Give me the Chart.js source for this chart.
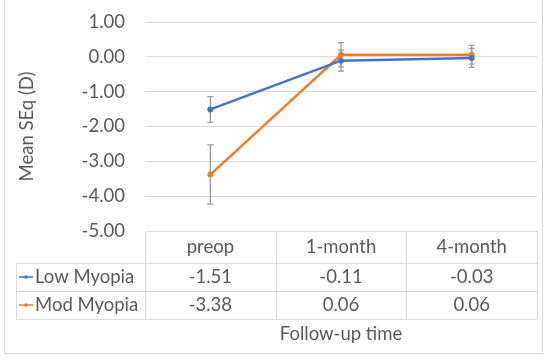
<!DOCTYPE html>
<html>
<head>
<meta charset="utf-8">
<script src="https://cdn.jsdelivr.net/npm/chart.js@4.4.1/dist/chart.umd.min.js"></script>
<style>
  html, body { margin: 0; padding: 0; background: #fff; }
  #wrap { width: 550px; height: 360px; position: relative; }
</style>
</head>
<body>
<div id="wrap"><canvas id="chart" width="550" height="360"></canvas></div>
<script>
// data
const categories = ["preop", "1-month", "4-month"];
const lowMyopia = [-1.51, -0.11, -0.03];
const modMyopia = [-3.38, 0.06, 0.06];
const lowSd = [0.37, 0.30, 0.27];
const modSd = [0.85, 0.35, 0.27];
const seriesNames = ["Low Myopia", "Mod Myopia"];
const seriesColors = ["#4472C4", "#ED7D31"];

const FONT = "Lato, 'Open Sans', sans-serif";
const FS = 18.5;
const TEXT = "#595959";
const LINE = "#d9d9d9";

// error bars, drawn under the lines
const errorBars = {
  id: "errorBars",
  beforeDatasetsDraw(chart) {
    const ctx = chart.ctx;
    const x = chart.scales.x, y = chart.scales.y;
    const sds = [lowSd, modSd];
    ctx.save();
    ctx.strokeStyle = "#999999";
    ctx.lineWidth = 1.3;
    chart.data.datasets.forEach((ds, di) => {
      ds.data.forEach((v, i) => {
        const px = x.getPixelForValue(i);
        const top = y.getPixelForValue(v + sds[di][i]);
        const bot = y.getPixelForValue(v - sds[di][i]);
        ctx.beginPath();
        ctx.moveTo(px, top); ctx.lineTo(px, bot);
        ctx.moveTo(px - 3, top); ctx.lineTo(px + 3, top);
        ctx.moveTo(px - 3, bot); ctx.lineTo(px + 3, bot);
        ctx.stroke();
      });
    });
    ctx.restore();
  }
};

// data table under the plot + outer frame
const dataTable = {
  id: "dataTable",
  afterDraw(chart) {
    const ctx = chart.ctx;
    const area = chart.chartArea;
    const x = chart.scales.x;
    const top = area.bottom;
    const rows = [top, top + 32, top + 60, top + 88];
    const tableLeft = 16;
    const colEdges = [area.left];
    for (let i = 0; i < categories.length - 1; i++) {
      colEdges.push((x.getPixelForValue(i) + x.getPixelForValue(i + 1)) / 2);
    }
    colEdges.push(area.right);

    ctx.save();
    ctx.strokeStyle = LINE;
    ctx.lineWidth = 1;
    ctx.beginPath();
    // horizontal lines
    ctx.moveTo(area.left, rows[0] + 0.5); ctx.lineTo(area.right, rows[0] + 0.5);
    for (let r = 1; r < rows.length; r++) {
      ctx.moveTo(tableLeft, Math.round(rows[r]) + 0.5);
      ctx.lineTo(area.right, Math.round(rows[r]) + 0.5);
    }
    // vertical lines
    colEdges.forEach(cx => {
      ctx.moveTo(Math.round(cx) + 0.5, rows[0]);
      ctx.lineTo(Math.round(cx) + 0.5, rows[3]);
    });
    ctx.moveTo(tableLeft + 0.5, rows[1]); ctx.lineTo(tableLeft + 0.5, rows[3]);
    ctx.stroke();

    ctx.fillStyle = TEXT;
    ctx.font = FS + "px " + FONT;
    ctx.textAlign = "center";
    ctx.textBaseline = "middle";
    categories.forEach((c, i) => {
      ctx.fillText(c, x.getPixelForValue(i), (rows[0] + rows[1]) / 2);
    });
    [lowMyopia, modMyopia].forEach((vals, si) => {
      const cy = (rows[si + 1] + rows[si + 2]) / 2;
      vals.forEach((v, i) => {
        ctx.fillText(v.toFixed(2), x.getPixelForValue(i), cy);
      });
      // legend key
      ctx.strokeStyle = seriesColors[si];
      ctx.lineWidth = 1.5;
      ctx.beginPath();
      ctx.moveTo(19, cy); ctx.lineTo(33, cy);
      ctx.stroke();
      ctx.fillStyle = seriesColors[si];
      ctx.beginPath();
      ctx.arc(26, cy, 1.8, 0, Math.PI * 2);
      ctx.fill();
      ctx.fillStyle = TEXT;
      ctx.textAlign = "left";
      ctx.fillText(seriesNames[si], 35, cy);
      ctx.textAlign = "center";
    });

    ctx.fillText("Follow-up time", (area.left + area.right) / 2, rows[3] + 15);

    // outer chart frame
    ctx.strokeStyle = LINE;
    ctx.lineWidth = 1;
    ctx.strokeRect(4.5, -1, 538, 354.5);
    ctx.restore();
  }
};

new Chart(document.getElementById("chart"), {
  type: "line",
  data: {
    labels: categories,
    datasets: [
      { label: seriesNames[0], data: lowMyopia, borderColor: seriesColors[0], backgroundColor: seriesColors[0],
        borderWidth: 2.5, pointRadius: 3, pointBorderWidth: 0, tension: 0 },
      { label: seriesNames[1], data: modMyopia, borderColor: seriesColors[1], backgroundColor: seriesColors[1],
        borderWidth: 2.5, pointRadius: 3, pointBorderWidth: 0, tension: 0 }
    ]
  },
  options: {
    responsive: false,
    animation: false,
    layout: { padding: { left: 0, top: 22, right: 13, bottom: 129 } },
    plugins: { legend: { display: false }, tooltip: { enabled: false } },
    scales: {
      x: { type: "category", offset: true, display: false },
      y: {
        min: -5, max: 1,
        afterFit(scale) { scale.width = 145; },
        border: { display: false },
        grid: { color: LINE, lineWidth: 1, drawTicks: true, tickLength: 16, tickColor: "rgba(0,0,0,0)" },
        ticks: {
          stepSize: 1, padding: 4, color: TEXT,
          font: { family: FONT, size: FS, lineHeight: 1 },
          callback: v => Number(v).toFixed(2)
        },
        title: {
          display: true, text: "Mean SEq (D)", color: TEXT,
          font: { family: FONT, size: FS },
          padding: { top: 16, bottom: 0 }
        }
      }
    }
  },
  plugins: [errorBars, dataTable]
});
</script>
</body>
</html>
